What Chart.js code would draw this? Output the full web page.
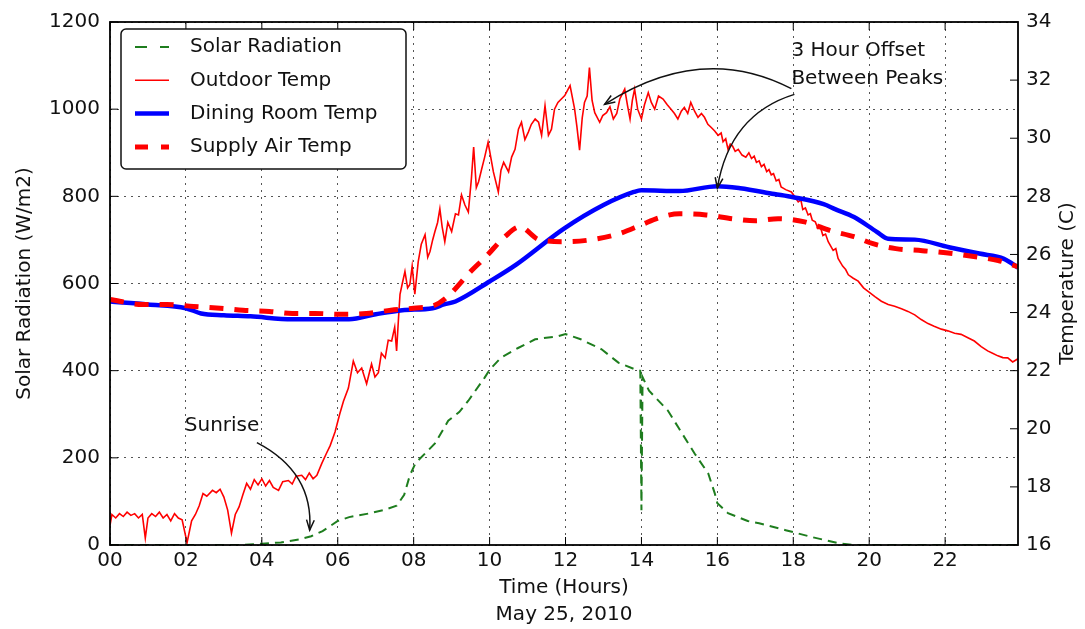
<!DOCTYPE html>
<html>
<head>
<meta charset="utf-8">
<script src="https://cdn.jsdelivr.net/npm/chart.js@4.4.1/dist/chart.umd.min.js"></script>
<style>
    html, body { margin: 0; padding: 0; background: #fff; }
</style>
</head>
<body>
<canvas id="chartTemp" width="1085" height="629"></canvas>
<script>
// Dados (horas do dia 25/05/2010)
const hourLabels = ['00', '02', '04', '06', '08', '10', '12', '14', '16', '18', '20', '22'];

const solarHours = [0, 3.5, 4.0, 4.5, 5.0, 5.3, 5.6, 6.0, 6.3, 6.8, 7.2, 7.55, 7.75, 7.9, 8.05, 8.3, 8.56, 8.91, 9.2, 9.44, 9.87,
    10.0, 10.3, 10.75, 11.2, 11.8, 12.0, 12.4, 12.95, 13.4, 13.8, 13.97, 14.0, 14.03, 14.2, 14.7, 14.97, 15.4, 15.76, 15.93, 16.0,
    16.28, 16.8, 17.1, 17.8, 18.5, 19.2, 19.6, 23.92];
const solarValues = [0, 0, 3, 6, 13, 20, 32, 55, 64, 72, 80, 90, 115, 160, 188, 210, 233, 285, 305, 331, 384,
    402, 430, 452, 472, 479, 484, 472, 449, 418, 404, 400, 80, 385, 354, 308, 270, 210, 164, 119, 96,
    73, 55, 50, 34, 18, 4, 0, 0];

const outdoorHours = [
    0.00, 0.05, 0.15, 0.25, 0.35, 0.45, 0.55, 0.65, 0.75, 0.85, 0.93, 1.00,
    1.10, 1.20, 1.30, 1.40, 1.50, 1.60, 1.70, 1.80, 1.90, 2.03, 2.15, 2.25,
    2.35, 2.45, 2.55, 2.70, 2.80, 2.90, 3.00, 3.10, 3.20, 3.30, 3.40, 3.50,
    3.60, 3.70, 3.80, 3.90, 4.00, 4.10, 4.20, 4.30, 4.44, 4.55, 4.70, 4.80,
    4.90, 5.05, 5.15, 5.25, 5.35, 5.45, 5.58, 5.70, 5.80, 5.93, 6.05, 6.15,
    6.28, 6.41, 6.52, 6.63, 6.76, 6.89, 6.98, 7.07, 7.15, 7.25, 7.33, 7.42,
    7.50, 7.55, 7.60, 7.64, 7.70, 7.77, 7.84, 7.90, 7.96, 8.03, 8.12, 8.20,
    8.30, 8.37, 8.43, 8.50, 8.56, 8.63, 8.69, 8.75, 8.82, 8.90, 9.00, 9.10,
    9.18, 9.26, 9.35, 9.44, 9.52, 9.58, 9.65, 9.71, 9.79, 9.87, 9.96, 10.10,
    10.23, 10.30, 10.37, 10.50, 10.58, 10.67, 10.76, 10.84, 10.93, 11.02, 11.10, 11.20,
    11.29, 11.37, 11.46, 11.55, 11.63, 11.71, 11.80, 11.89, 11.98, 12.07, 12.12, 12.24,
    12.30, 12.37, 12.44, 12.50, 12.57, 12.63, 12.70, 12.77, 12.90, 12.98, 13.08, 13.17,
    13.26, 13.35, 13.43, 13.56, 13.63, 13.70, 13.76, 13.82, 13.90, 14.00, 14.08, 14.18,
    14.26, 14.35, 14.45, 14.57, 14.68, 14.78, 14.87, 14.96, 15.05, 15.13, 15.22, 15.30,
    15.40, 15.49, 15.58, 15.66, 15.75, 15.84, 15.93, 16.02, 16.10, 16.15, 16.22, 16.28, 16.34, 16.40, 16.47, 16.55,
    16.65, 16.75, 16.83, 16.90, 16.97, 17.03, 17.10, 17.16, 17.23, 17.30, 17.36, 17.42, 17.48, 17.55, 17.62, 17.68, 17.80, 17.95, 18.05, 18.13,
    18.20, 18.25, 18.32, 18.39, 18.45, 18.50, 18.58, 18.65, 18.72, 18.78, 18.85, 18.92, 19.05, 19.12, 19.18, 19.30, 19.38, 19.45, 19.58, 19.71,
    19.85, 19.97, 20.15, 20.32, 20.50, 20.67, 20.85, 21.02, 21.20, 21.37, 21.55, 21.71,
    21.90, 22.07, 22.25, 22.42, 22.60, 22.77, 22.95, 23.12, 23.25, 23.39, 23.52, 23.65, 23.78, 23.92
];
const outdoorTemp = [
    16.68, 17.05, 16.93, 17.08, 16.98, 17.13, 17.02, 17.08, 16.93, 17.05, 16.24, 16.93,
    17.08, 16.98, 17.13, 16.93, 17.05, 16.83, 17.08, 16.93, 16.87, 16.08, 16.83, 17.05,
    17.35, 17.77, 17.68, 17.88, 17.80, 17.92, 17.65, 17.20, 16.41, 17.05, 17.31, 17.73,
    18.12, 17.92, 18.25, 18.07, 18.28, 18.03, 18.22, 17.98, 17.88, 18.18, 18.22, 18.10,
    18.37, 18.40, 18.25, 18.48, 18.28, 18.40, 18.81, 19.15, 19.42, 19.90, 20.50, 20.95,
    21.40, 22.33, 21.93, 22.09, 21.55, 22.23, 21.78, 21.93, 22.60, 22.44, 23.05, 23.02,
    23.50, 22.68, 23.80, 24.63, 25.00, 25.41, 24.85, 24.97, 25.60, 24.63, 25.75, 26.35,
    26.68, 25.90, 26.10, 26.50, 26.79, 27.10, 27.57, 26.95, 26.44, 27.10, 26.79, 27.40,
    27.36, 28.05, 27.70, 27.46, 28.60, 29.70, 28.30, 28.50, 28.93, 29.35, 29.86, 28.84,
    28.15, 28.90, 29.17, 28.84, 29.35, 29.62, 30.31, 30.55, 29.95, 30.21, 30.48, 30.66,
    30.55, 30.10, 31.12, 30.10, 30.31, 31.00, 31.23, 31.35, 31.47, 31.69, 31.81, 31.00,
    30.40, 29.59, 30.70, 31.23, 31.45, 32.43, 31.30, 30.88, 30.55, 30.78, 30.88, 31.08,
    30.66, 30.85, 31.35, 31.69, 31.15, 30.66, 31.30, 31.69, 31.00, 30.66, 31.15, 31.57,
    31.23, 31.00, 31.45, 31.35, 31.15, 31.00, 30.85, 30.66, 30.93, 31.06, 30.85, 31.23,
    30.93, 30.72, 30.85, 30.72, 30.48, 30.37, 30.25, 30.10, 30.18, 29.88, 29.98, 29.62, 29.80, 29.73, 29.55, 29.62,
    29.42, 29.35, 29.50, 29.30, 29.38, 29.17, 29.22, 29.02, 29.10, 28.85, 28.92, 28.74, 28.78, 28.53, 28.58, 28.32, 28.23, 28.15, 27.97, 27.81,
    27.88, 27.55, 27.60, 27.36, 27.40, 27.18, 27.12, 26.89, 26.92, 26.65, 26.70, 26.44, 26.14, 26.20, 25.86, 25.60, 25.48, 25.30, 25.18, 25.08,
    24.85, 24.73, 24.55, 24.39, 24.28, 24.22, 24.13, 24.04, 23.92, 23.76, 23.62, 23.53,
    23.43, 23.37, 23.29, 23.25, 23.13, 23.02, 22.83, 22.68, 22.60, 22.51, 22.45, 22.44, 22.30, 22.41
];

const diningHours = [0, 1.0, 2.0, 2.4, 3.0, 3.7, 4.8, 6.3, 7.0, 7.7, 8.5, 8.8, 9.1, 10.0, 10.7, 11.95, 13.0, 13.8, 14.0,
    15.0, 16.0, 16.6, 17.5, 18.0, 18.8, 19.1, 19.6, 20.2, 20.5, 21.2, 22.1, 22.9, 23.55, 23.92];
const diningTemp = [24.38, 24.28, 24.15, 23.97, 23.91, 23.87, 23.77, 23.77, 23.94, 24.08, 24.15, 24.28, 24.38, 25.07, 25.65, 26.88, 27.70, 28.15, 28.21,
    28.18, 28.35, 28.28, 28.08, 27.97, 27.73, 27.56, 27.29, 26.78, 26.54, 26.51, 26.25, 26.03, 25.85, 25.55];

const supplyHours = [0, 0.85, 1.5, 2.2, 2.9, 3.5, 4.2, 4.8, 5.4, 6.1, 6.75, 7.4, 8.0, 8.55, 8.9, 9.5, 9.9, 10.4, 10.8, 11.3,
    12.0, 12.7, 13.4, 14.0, 14.45, 15.0, 15.7, 16.4, 17.0, 17.6, 18.3, 19.0, 19.6, 20.1, 20.7, 21.4, 22.2, 22.8, 23.4, 23.92];
const supplyTemp = [24.45, 24.28, 24.28, 24.21, 24.15, 24.08, 24.04, 23.97, 23.97, 23.94, 23.97, 24.08, 24.15, 24.25, 24.56, 25.41, 25.92, 26.61, 26.95, 26.51,
    26.44, 26.51, 26.71, 27.02, 27.26, 27.40, 27.36, 27.23, 27.16, 27.23, 27.12, 26.81, 26.61, 26.37, 26.20, 26.13, 26.03, 25.92, 25.79, 25.58];

const FONTE = 'DejaVu Sans';
const COR_TEXTO = '#111';

function pontos(xs, ys) {
    return xs.map((h, i) => ({ x: h, y: ys[i] }));
}

// anotações em unidades de dados (horas, W/m2)
const anotSunrise = { texto: 'Sunrise', h: 1.97, v: 274, seta: [[3.87, 235], [5.37, 167], [5.26, 34]] };
const anotOffset = {
    linhas: ['3 Hour Offset', 'Between Peaks'], h: 17.95, v: [1134, 1070],
    setas: [
        [[17.95, 1047], [15.58, 1154], [13.03, 1011]],
        [[18.03, 1034], [16.32, 988], [16.0, 819]]
    ]
};

function desenharSeta(ctx, p0, c, p1) {
    ctx.beginPath();
    ctx.moveTo(p0[0], p0[1]);
    ctx.quadraticCurveTo(c[0], c[1], p1[0], p1[1]);
    ctx.stroke();
    const ang = Math.atan2(p1[1] - c[1], p1[0] - c[0]);
    const len = 11, abertura = 0.36;
    ctx.beginPath();
    ctx.moveTo(p1[0] - len * Math.cos(ang - abertura), p1[1] - len * Math.sin(ang - abertura));
    ctx.lineTo(p1[0], p1[1]);
    ctx.lineTo(p1[0] - len * Math.cos(ang + abertura), p1[1] - len * Math.sin(ang + abertura));
    ctx.stroke();
}

const pluginExtras = {
    id: 'extras',
    afterDatasetsDraw(chart) {
        const ctx = chart.ctx;
        const a = chart.chartArea;
        const sx = chart.scales.x, sL = chart.scales.yL, sR = chart.scales.yR;
        const px = (h, v) => [sx.getPixelForValue(h), sL.getPixelForValue(v)];

        ctx.save();
        // ticks para dentro
        ctx.strokeStyle = '#000';
        ctx.lineWidth = 1;
        ctx.beginPath();
        sx.ticks.forEach(t => {
            const x = sx.getPixelForValue(t.value);
            ctx.moveTo(x, a.bottom); ctx.lineTo(x, a.bottom - 8);
            ctx.moveTo(x, a.top); ctx.lineTo(x, a.top + 8);
        });
        sL.ticks.forEach(t => {
            const y = sL.getPixelForValue(t.value);
            ctx.moveTo(a.left, y); ctx.lineTo(a.left + 8, y);
        });
        sR.ticks.forEach(t => {
            const y = sR.getPixelForValue(t.value);
            ctx.moveTo(a.right, y); ctx.lineTo(a.right - 8, y);
        });
        ctx.stroke();

        // moldura
        ctx.lineWidth = 1.8;
        ctx.strokeRect(a.left, a.top, a.right - a.left, a.bottom - a.top);

        // título do eixo direito (de baixo para cima)
        ctx.fillStyle = COR_TEXTO;
        ctx.font = `20px "${FONTE}"`;
        ctx.textAlign = 'center';
        ctx.textBaseline = 'middle';
        ctx.save();
        ctx.translate(1068, (a.top + a.bottom) / 2);
        ctx.rotate(-Math.PI / 2);
        ctx.fillText('Temperature (C)', 0, 0);
        ctx.restore();

        // legenda
        const lx = a.left + 11, ly = a.top + 7, lw = 285, lh = 140;
        ctx.beginPath();
        ctx.roundRect(lx, ly, lw, lh, 5);
        ctx.fillStyle = '#fff';
        ctx.fill();
        ctx.lineWidth = 1.5;
        ctx.strokeStyle = '#111';
        ctx.stroke();
        const tracos = [[12, 13], [], [], [13, 13]];
        [0, 1, 2, 3].forEach((idx, i) => {
            const ds = chart.data.datasets[idx];
            const y = ly + 18 + i * 33.3;
            ctx.save();
            ctx.strokeStyle = ds.borderColor;
            ctx.lineWidth = ds.borderWidth;
            ctx.setLineDash(tracos[i]);
            ctx.beginPath();
            ctx.moveTo(lx + 14, y);
            ctx.lineTo(lx + 48, y);
            ctx.stroke();
            ctx.restore();
            ctx.fillStyle = COR_TEXTO;
            ctx.textAlign = 'left';
            ctx.fillText(ds.label, lx + 69, y);
        });

        // anotações
        ctx.strokeStyle = '#111';
        ctx.lineWidth = 1.5;
        ctx.fillStyle = COR_TEXTO;
        ctx.textAlign = 'left';
        const ps = px(anotSunrise.h, anotSunrise.v);
        ctx.fillText(anotSunrise.texto, ps[0], ps[1]);
        const s = anotSunrise.seta.map(p => px(p[0], p[1]));
        desenharSeta(ctx, s[0], s[1], s[2]);

        anotOffset.linhas.forEach((t, i) => {
            const p = px(anotOffset.h, anotOffset.v[i]);
            ctx.fillText(t, p[0], p[1]);
        });
        anotOffset.setas.forEach(seta => {
            const q = seta.map(p => px(p[0], p[1]));
            desenharSeta(ctx, q[0], q[1], q[2]);
        });
        ctx.restore();
    }
};

Chart.defaults.font.family = FONTE;
Chart.defaults.font.size = 20;
Chart.defaults.color = COR_TEXTO;

const ctx = document.getElementById('chartTemp').getContext('2d');
new Chart(ctx, {
    type: 'line',
    data: {
        datasets: [
            {
                label: 'Solar Radiation',
                data: pontos(solarHours, solarValues),
                yAxisID: 'yL',
                borderColor: '#1e7d1e',
                borderWidth: 2,
                borderDash: [9, 6],
                order: 4
            },
            {
                label: 'Outdoor Temp',
                data: pontos(outdoorHours, outdoorTemp),
                yAxisID: 'yR',
                borderColor: '#ff0000',
                borderWidth: 1.6,
                order: 3
            },
            {
                label: 'Dining Room Temp',
                data: pontos(diningHours, diningTemp),
                yAxisID: 'yR',
                borderColor: '#0000ff',
                borderWidth: 4.5,
                cubicInterpolationMode: 'monotone',
                order: 2
            },
            {
                label: 'Supply Air Temp',
                data: pontos(supplyHours, supplyTemp),
                yAxisID: 'yR',
                borderColor: '#ff0000',
                borderWidth: 5,
                borderDash: [14, 11],
                cubicInterpolationMode: 'monotone',
                order: 1
            }
        ]
    },
    options: {
        responsive: false,
        animation: false,
        layout: { padding: { top: 18, left: 0, right: 0, bottom: 0 } },
        elements: { point: { radius: 0 }, line: { tension: 0, borderCapStyle: 'butt' } },
        plugins: { legend: { display: false }, tooltip: { enabled: false } },
        scales: {
            x: {
                type: 'linear',
                min: 0,
                max: 23.92,
                afterFit: s => { s.height = 84; },
                ticks: {
                    stepSize: 2,
                    includeBounds: false,
                    autoSkip: false,
                    maxRotation: 0,
                    padding: 4,
                    callback: v => hourLabels[v / 2]
                },
                grid: { color: '#555', lineWidth: 1, drawTicks: false },
                border: { display: false, dash: [2, 5] },
                title: {
                    display: true,
                    text: ['Time (Hours)', 'May 25, 2010'],
                    font: { size: 20, lineHeight: 1.35 },
                    padding: { top: 0, bottom: 0.5 }
                }
            },
            yL: {
                position: 'left',
                min: 0,
                max: 1200,
                afterFit: s => { s.width = 110; },
                ticks: { stepSize: 200, padding: 10, callback: v => String(v) },
                grid: { color: '#555', lineWidth: 1, drawTicks: false },
                border: { display: false, dash: [2, 5] },
                title: {
                    display: true,
                    text: 'Solar Radiation (W/m2)',
                    padding: { top: 13, bottom: 0 }
                }
            },
            yR: {
                position: 'right',
                min: 16,
                max: 34,
                afterFit: s => { s.width = 67; },
                ticks: { stepSize: 2, padding: 8, callback: v => String(v) },
                grid: { drawOnChartArea: false, drawTicks: false },
                border: { display: false }
            }
        }
    },
    plugins: [pluginExtras]
});
</script>
</body>
</html>
